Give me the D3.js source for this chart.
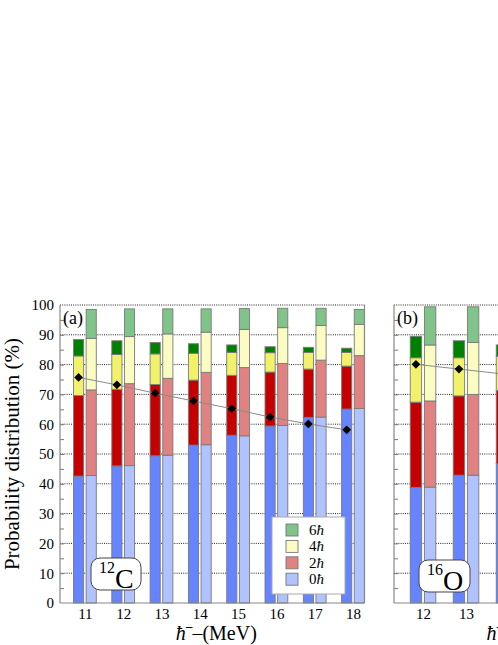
<!DOCTYPE html>
<html>
<head>
<meta charset="utf-8">
<script src="https://cdn.jsdelivr.net/npm/d3@7/dist/d3.min.js"></script>
<style>
  body { margin: 0; background: #fff; }
  svg text { font-family: "Liberation Serif", "Times New Roman", Times, "Nimbus Roman", "Tinos", "FreeSerif", "Noto Serif", "DejaVu Serif", serif; fill: #000; }
</style>
</head>
<body>
<svg id="chart" width="498" height="645"></svg>
<script>
// components: 0hw, 2hw, 4hw, 6hw (%)
var energiesC = [11, 12, 13, 14, 15, 16, 17, 18]
var c12Dark0 = [42.6, 46.0, 49.4, 53.0, 56.3, 59.4, 62.3, 65.1]
var c12Dark2 = [27.0, 25.7, 23.9, 21.8, 20.1, 18.1, 16.2, 14.4]
var c12Dark4 = [13.3, 11.7, 10.3, 9.0, 7.7, 6.5, 5.6, 4.6]
var c12Dark6 = [5.5, 4.6, 3.8, 3.2, 2.5, 2.0, 1.7, 1.4]
var c12Light0 = [42.8, 46.1, 49.6, 53.1, 56.1, 59.6, 62.4, 65.3]
var c12Light2 = [28.7, 27.5, 25.8, 24.3, 22.9, 20.8, 19.1, 17.7]
var c12Light4 = [17.3, 15.8, 14.9, 13.5, 12.8, 12.0, 11.6, 10.5]
var c12Light6 = [9.7, 9.3, 8.4, 7.8, 7.0, 6.5, 5.8, 5.0]
var c12Diamond = [75.7, 73.2, 70.4, 67.8, 65.2, 62.4, 60.1, 58.1]

var energiesO = [12, 13, 14]
var o16Dark0 = [38.8, 42.9, 46.8]
var o16Dark2 = [28.6, 26.6, 24.5]
var o16Dark4 = [14.9, 12.8, 11.5]
var o16Dark6 = [7.2, 5.7, 3.8]
var o16Light0 = [38.9, 42.9, 46.9]
var o16Light2 = [28.9, 27.1, 25.5]
var o16Light4 = [18.8, 17.4, 17.0]
var o16Light6 = [12.8, 12.0, 10.0]
var o16Diamond = [80.1, 78.5, 76.9]

var yTicks = [0, 10, 20, 30, 40, 50, 60, 70, 80, 90, 100]
var legendKeys = ['6', '4', '2', '0']

var darkColors = {'0': '#6684ff', '2': '#c40000', '4': '#f2f26a', '6': '#008000'}
var lightColors = {'0': '#b0c2ff', '2': '#e08282', '4': '#fafcc2', '6': '#80c48a'}

var serif = '"Liberation Serif", "Times New Roman", Times, "Nimbus Roman", Tinos, FreeSerif, "Noto Serif", "DejaVu Serif", serif'

var svg = d3.select('#chart')
var y = d3.scaleLinear().domain([0, 100]).range([603, 305])

function drawPanel (opts) {
  var x = opts.x
  var step = x(1) - x(0)
  var bw = step * 0.265
  var off = step * 0.165
  var left = x.range()[0], right = x.range()[1]
  var g = svg.append('g')

  // dotted grid
  g.append('g').selectAll('line')
    .data(yTicks.filter(function (d) { return d > 0 }))
    .enter().append('line')
      .attr('x1', left).attr('x2', right)
      .attr('y1', function (d) { return y(d) }).attr('y2', function (d) { return y(d) })
      .attr('stroke', '#222').attr('stroke-width', 1)
      .attr('stroke-dasharray', '1,1.2')

  // minor ticks inside
  g.append('g').attr('transform', 'translate(' + left + ',0)')
    .call(d3.axisLeft(y).tickValues(d3.range(5, 100, 5)).tickSize(-4).tickFormat(''))
    .call(function (a) { a.select('.domain').remove(); a.selectAll('line').attr('stroke', '#777') })
  g.append('g').attr('transform', 'translate(' + right + ',0)')
    .call(d3.axisRight(y).tickValues(d3.range(5, 100, 5)).tickSize(-4).tickFormat(''))
    .call(function (a) { a.select('.domain').remove(); a.selectAll('line').attr('stroke', '#777') })

  // stacked bars
  function stackBars (vals, colors, dx) {
    opts.energies.forEach(function (e, i) {
      var base = 0
      ;['0', '2', '4', '6'].forEach(function (k) {
        var v = vals[k][i]
        g.append('rect')
          .attr('x', x(e) + dx - bw / 2)
          .attr('y', y(base + v))
          .attr('width', bw)
          .attr('height', y(base) - y(base + v))
          .attr('fill', colors[k])
          .attr('stroke', '#7a7a7a')
          .attr('stroke-width', 0.9)
        base += v
      })
    })
  }
  stackBars(opts.dark, darkColors, -off)
  stackBars(opts.light, lightColors, off)

  // frame
  g.append('line').attr('x1', left).attr('x2', left).attr('y1', y(0)).attr('y2', y(100))
    .attr('stroke', '#888').attr('stroke-width', 1.2)
  g.append('line').attr('x1', left).attr('x2', right).attr('y1', y(0)).attr('y2', y(0))
    .attr('stroke', '#888').attr('stroke-width', 1.2)
  g.append('line').attr('x1', right).attr('x2', right).attr('y1', y(0)).attr('y2', y(100))
    .attr('stroke', '#888').attr('stroke-width', 1.2)

  // x axis labels
  g.append('g').attr('transform', 'translate(0,' + y(0) + ')')
    .call(d3.axisBottom(x).tickValues(opts.ticks).tickSize(0).tickPadding(5).tickFormat(d3.format('d')))
    .call(function (a) {
      a.select('.domain').remove()
      a.attr('font-family', serif)
      a.selectAll('text').style('font-size', '15px').style('font-family', serif)
    })

  // diamonds and connecting line
  var pts = opts.energies.map(function (e, i) { return [x(e) - off, y(opts.diamond[i])] })
  g.append('path').attr('d', d3.line()(pts))
    .attr('fill', 'none').attr('stroke', '#8a8a8a').attr('stroke-width', 1)
  g.selectAll('.dia').data(pts).enter().append('path')
    .attr('class', 'dia')
    .attr('d', d3.symbol(d3.symbolSquare, 38))
    .attr('transform', function (p) { return 'translate(' + p[0] + ',' + p[1] + ') rotate(45)' })
    .attr('fill', '#000')

  // panel letter
  g.append('text').attr('x', left + 3).attr('y', y(100) + 19)
    .style('font-size', '18px').text(opts.letter)

  // nucleus box
  var b = opts.box
  g.append('rect').attr('x', b.x).attr('y', b.y).attr('width', b.w).attr('height', b.h)
    .attr('rx', 9).attr('fill', '#fff').attr('stroke', '#444').attr('stroke-width', 1)
  var t = g.append('text').attr('x', b.x + 8).attr('y', b.y + 30)
  t.append('tspan').attr('dy', -15).style('font-size', '16px').text(opts.mass)
  t.append('tspan').attr('dy', 15).style('font-size', '28px').text(opts.element)

  // x label
  var xl = g.append('text').attr('x', (left + right) / 2 + 4).attr('y', 640)
    .attr('text-anchor', 'middle').style('font-size', '20px')
  xl.append('tspan').style('font-style', 'italic').text('ħ')
  xl.append('tspan').text('⁻–(MeV)')
}

var xa = d3.scaleLinear().domain([10.35, 18.3]).range([60, 364.5])
var xb = d3.scaleLinear().domain([11.325, 17.325]).range([394, 652])

function cols (a, b, c, d) { return {'0': a, '2': b, '4': c, '6': d} }

drawPanel({
  x: xa, energies: energiesC, ticks: energiesC,
  dark: cols(c12Dark0, c12Dark2, c12Dark4, c12Dark6),
  light: cols(c12Light0, c12Light2, c12Light4, c12Light6),
  diamond: c12Diamond, letter: '(a)', mass: '12', element: 'C',
  box: {x: 91, y: 558, w: 50, h: 32}
})
drawPanel({
  x: xb, energies: energiesO, ticks: [12, 13],
  dark: cols(o16Dark0, o16Dark2, o16Dark4, o16Dark6),
  light: cols(o16Light0, o16Light2, o16Light4, o16Light6),
  diamond: o16Diamond, letter: '(b)', mass: '16', element: 'O',
  box: {x: 419, y: 560, w: 51, h: 32}
})

// y axis labels (panel a only)
svg.append('g').attr('transform', 'translate(60,0)')
  .call(d3.axisLeft(y).tickValues(yTicks).tickSize(0).tickPadding(6))
  .call(function (a) {
    a.select('.domain').remove()
    a.attr('font-family', serif)
    a.selectAll('text').style('font-size', '15px').style('font-family', serif)
  })

svg.append('text')
  .attr('transform', 'translate(19,454) rotate(-90)')
  .attr('text-anchor', 'middle')
  .style('font-size', '21px')
  .style('font-family', serif)
  .text('Probability distribution (%)')

// legend
var leg = svg.append('g').attr('transform', 'translate(272,517)')
leg.append('rect').attr('width', 73).attr('height', 77)
  .attr('fill', '#fff').attr('stroke', '#aaa').attr('stroke-width', 1)
var li = leg.selectAll('.li').data(legendKeys).enter().append('g')
  .attr('class', 'li')
  .attr('transform', function (d, i) { return 'translate(14,' + (7 + i * 16.4) + ')' })
li.append('rect').attr('width', 12).attr('height', 12)
  .attr('fill', function (d) { return lightColors[d] })
  .attr('stroke', '#777').attr('stroke-width', 0.9)
var lt = li.append('text').attr('x', 23).attr('y', 11).style('font-size', '15px')
lt.append('tspan').text(function (d) { return d })
lt.append('tspan').style('font-style', 'italic').text('ħ')
</script>
</body>
</html>
